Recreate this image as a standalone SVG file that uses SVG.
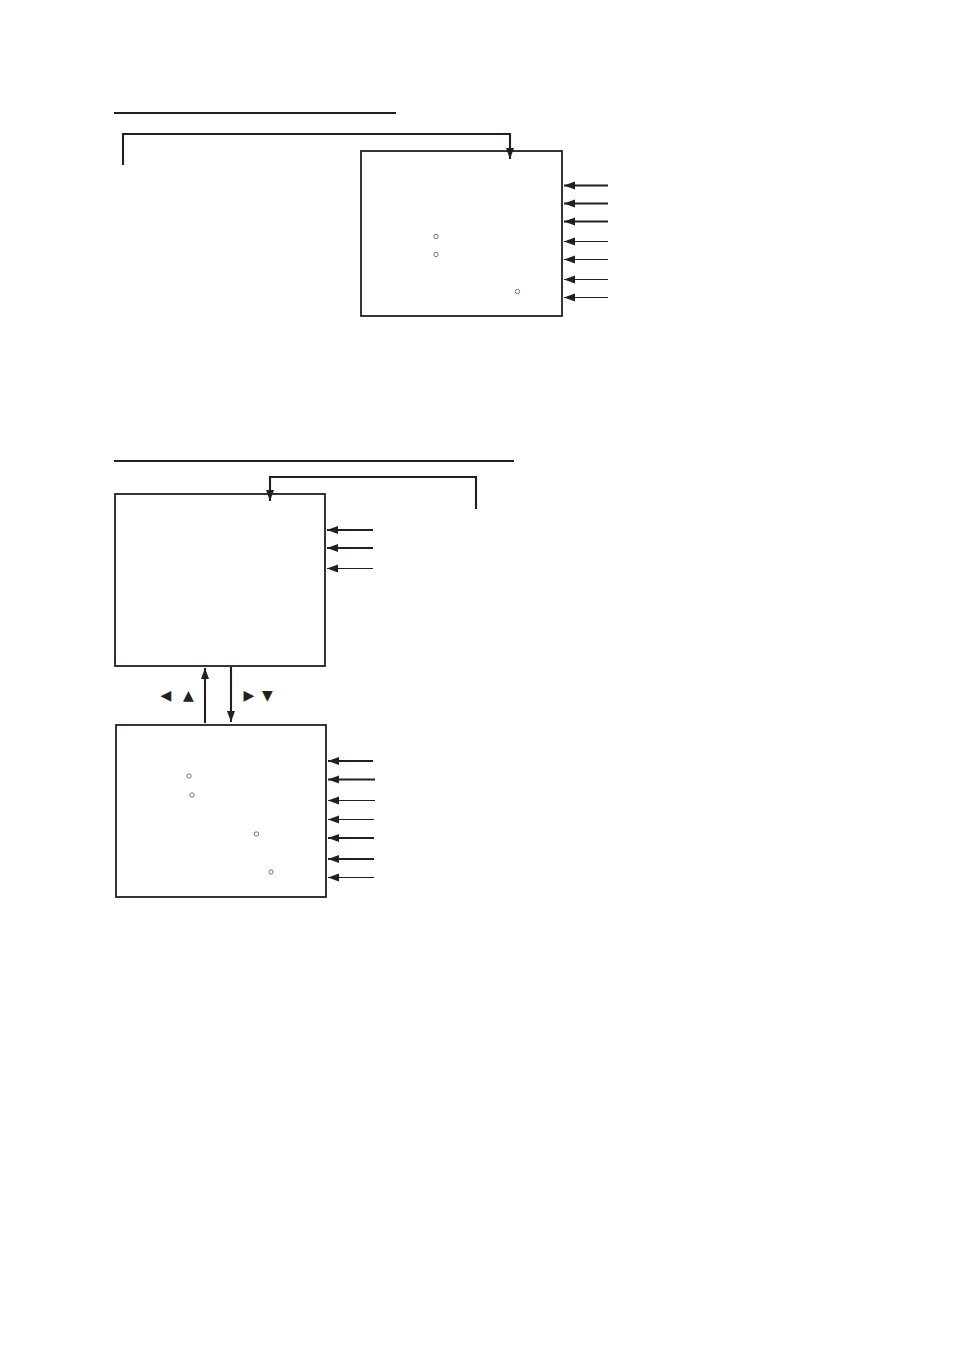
<svg xmlns="http://www.w3.org/2000/svg" width="954" height="1351" viewBox="0 0 954 1351">
<defs>
<marker id="ah" markerUnits="userSpaceOnUse" markerWidth="12" markerHeight="10" refX="11" refY="4" orient="auto"><path d="M0,0 L11,4 L0,8 Z" fill="#231f20"/></marker>
<style>
.box{fill:none;stroke:#231f20;stroke-width:1.8}
.ln{fill:none;stroke:#231f20}
.thick{stroke-width:2.1}
.thin{stroke-width:1.2}
.dot{fill:none;stroke:#555;stroke-width:0.8}
.tri{font-family:"DejaVu Sans",sans-serif;font-size:14px;fill:#231f20;text-anchor:middle}
</style>
</defs>
<rect width="954" height="1351" fill="#fff"/>
<line x1="114" y1="113" x2="396" y2="113" class="ln thick"/>
<line x1="114" y1="461" x2="514" y2="461" class="ln thick"/>
<g id="box1"><rect x="361" y="151" width="201" height="165" class="box"/>
<circle cx="436" cy="236.5" r="2.2" class="dot"/><circle cx="436" cy="254.5" r="2.2" class="dot"/><circle cx="517.5" cy="291.5" r="2.2" class="dot"/></g>
<g id="box2"><rect x="115" y="494" width="210" height="172" class="box"/></g>
<g id="box3"><rect x="116" y="725" width="210" height="172" class="box"/>
<circle cx="189" cy="776" r="2.2" class="dot"/><circle cx="192" cy="795" r="2.2" class="dot"/><circle cx="256.5" cy="834" r="2.2" class="dot"/><circle cx="271" cy="872" r="2.2" class="dot"/></g>
<g id="labels">
<text x="166" y="699.5" class="tri">◀︎</text><text x="188.5" y="699.5" class="tri">▲︎</text>
<text x="249" y="699.5" class="tri">▶︎</text><text x="267.5" y="699.5" class="tri">▼︎</text>
</g>
<g id="connectors">
<polyline points="123,165 123,134 510,134 510,159" class="ln thick" marker-end="url(#ah)"/>
<line x1="608" y1="185.5" x2="564" y2="185.5" class="ln thick" marker-end="url(#ah)"/>
<line x1="608" y1="203.5" x2="564" y2="203.5" class="ln thick" marker-end="url(#ah)"/>
<line x1="608" y1="221.5" x2="564" y2="221.5" class="ln thick" marker-end="url(#ah)"/>
<line x1="608" y1="241.5" x2="564" y2="241.5" class="ln thin" marker-end="url(#ah)"/>
<line x1="608" y1="259.5" x2="564" y2="259.5" class="ln thin" marker-end="url(#ah)"/>
<line x1="608" y1="279.5" x2="564" y2="279.5" class="ln thin" marker-end="url(#ah)"/>
<line x1="608" y1="297.5" x2="564" y2="297.5" class="ln thin" marker-end="url(#ah)"/>
<polyline points="476,509 476,477 270,477 270,501" class="ln thick" marker-end="url(#ah)"/>
<line x1="373" y1="530" x2="327" y2="530" class="ln thick" marker-end="url(#ah)"/>
<line x1="373" y1="548" x2="327" y2="548" class="ln thick" marker-end="url(#ah)"/>
<line x1="373" y1="568.5" x2="327" y2="568.5" class="ln thin" marker-end="url(#ah)"/>
<line x1="205" y1="723" x2="205" y2="668" class="ln thick" marker-end="url(#ah)"/>
<line x1="231" y1="667" x2="231" y2="722" class="ln thick" marker-end="url(#ah)"/>
<line x1="373" y1="761" x2="328" y2="761" class="ln thick" marker-end="url(#ah)"/>
<line x1="375" y1="779.5" x2="328" y2="779.5" class="ln thick" marker-end="url(#ah)"/>
<line x1="375" y1="800.5" x2="328" y2="800.5" class="ln thin" marker-end="url(#ah)"/>
<line x1="374" y1="819.5" x2="328" y2="819.5" class="ln thin" marker-end="url(#ah)"/>
<line x1="374" y1="838" x2="328" y2="838" class="ln thick" marker-end="url(#ah)"/>
<line x1="374" y1="859" x2="328" y2="859" class="ln thick" marker-end="url(#ah)"/>
<line x1="374" y1="877.5" x2="328" y2="877.5" class="ln thin" marker-end="url(#ah)"/>
</g>
</svg>
